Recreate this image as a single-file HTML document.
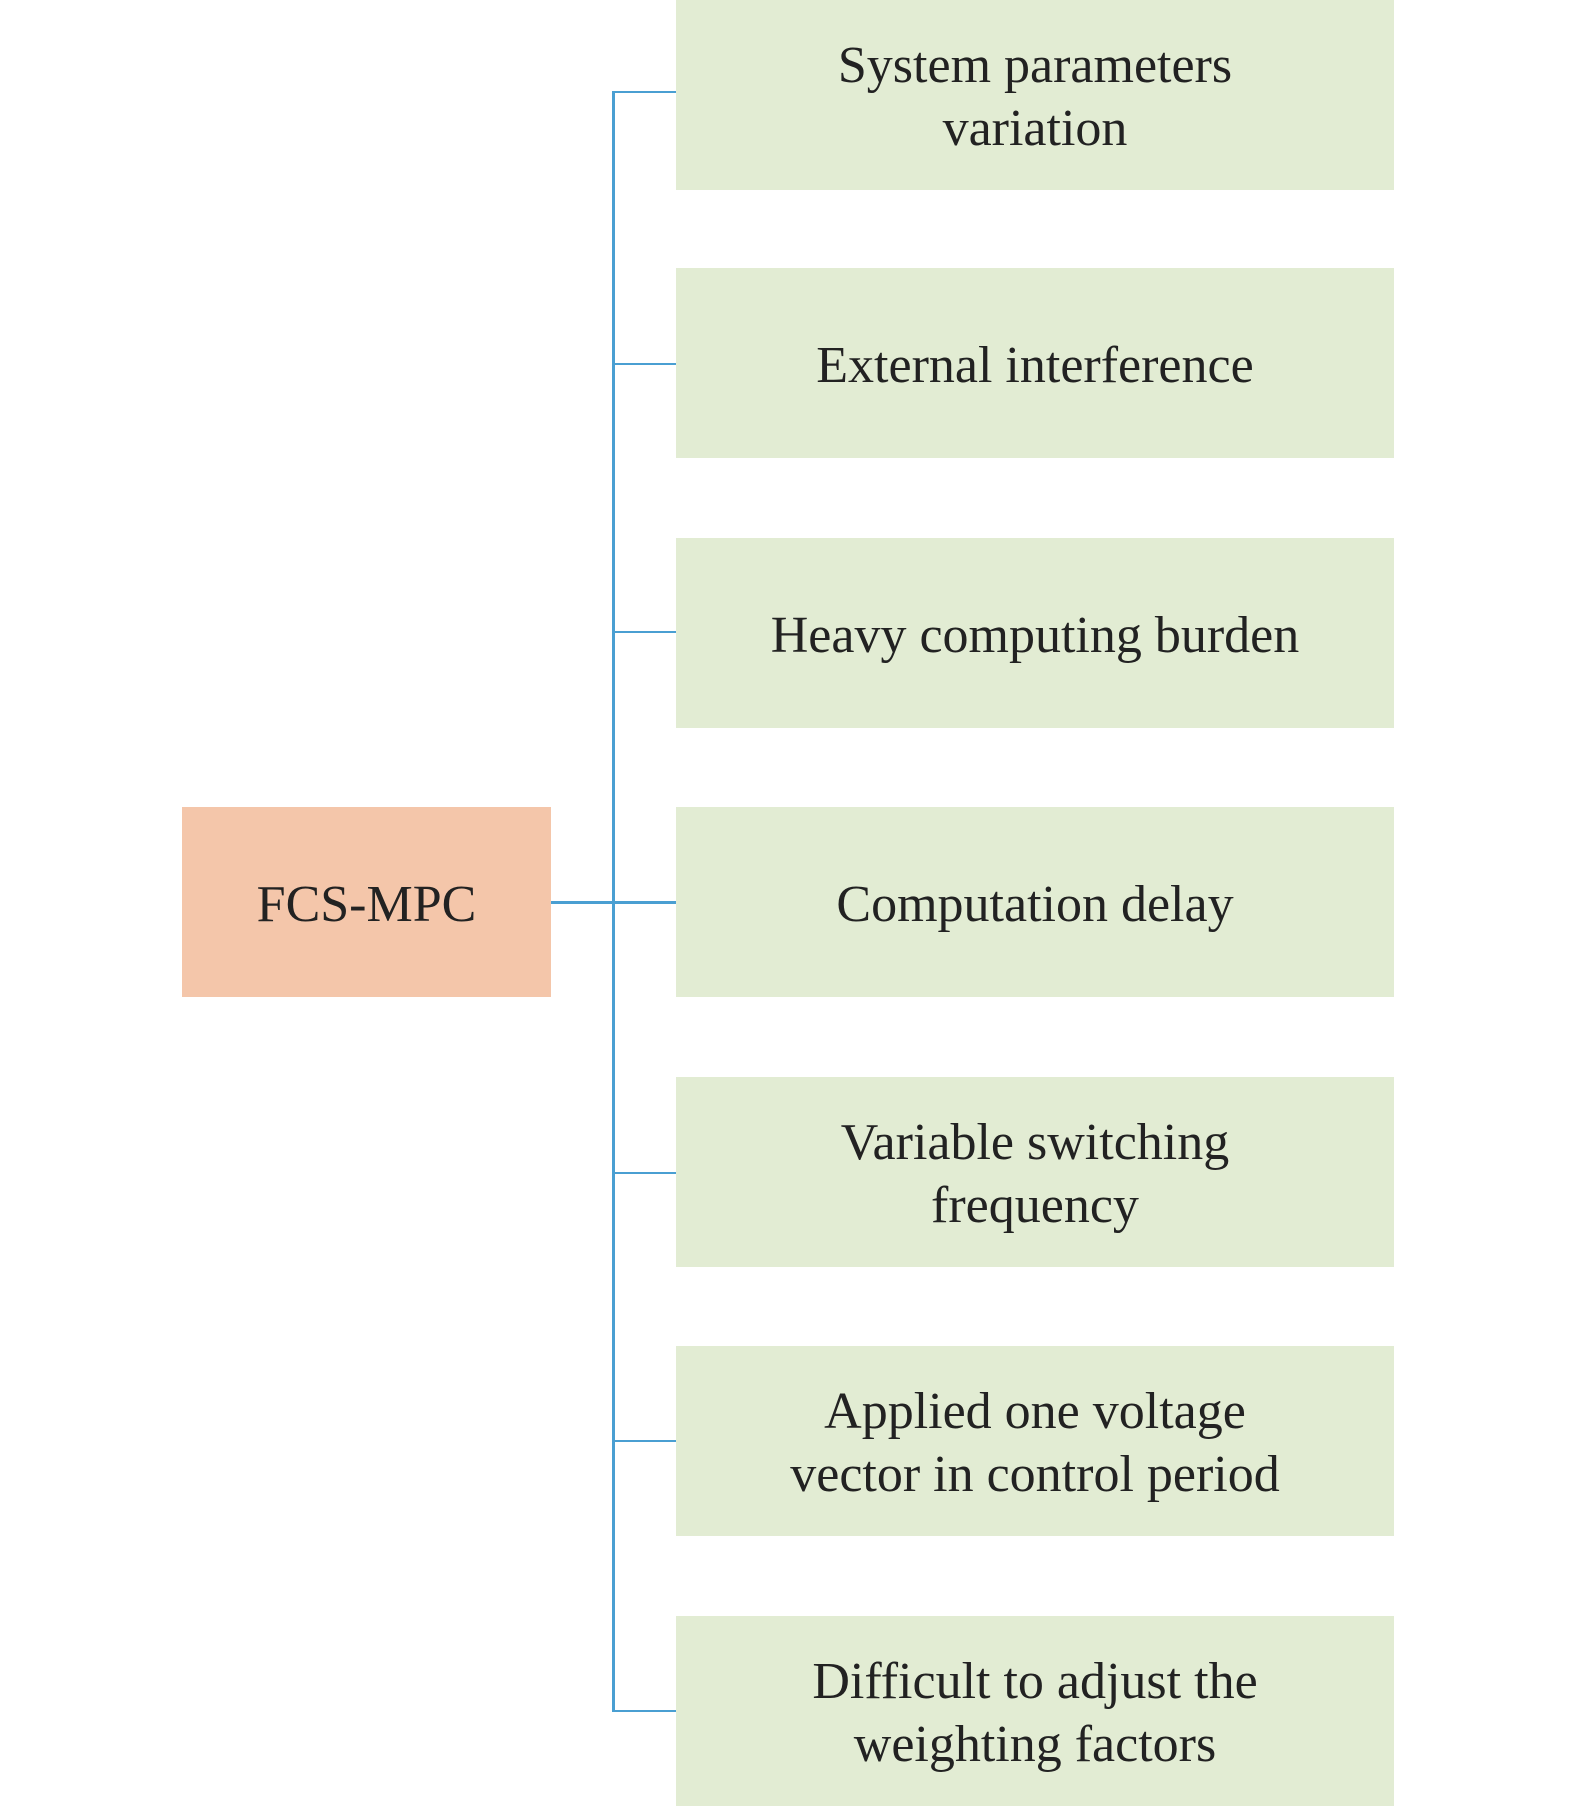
<!DOCTYPE html>
<html><head><style>
body{margin:0;width:1575px;height:1804px;background:#fff;position:relative;overflow:hidden;font-family:"Liberation Serif",serif;}
.b{position:absolute;left:676px;width:718px;height:190px;padding-top:4px;box-sizing:border-box;background:#e2ecd3;display:flex;align-items:center;justify-content:center;text-align:center;font-size:52px;line-height:63px;color:#222;}
.l{position:absolute;background:#4a9fd2;}
</style></head><body>
<div class="l" style="left:612px;top:91px;width:3px;height:1621px"></div>
<div class="l" style="left:551px;top:901px;width:126px;height:3px"></div>
<div class="l" style="left:612px;top:91px;width:65px;height:2px"></div>
<div class="l" style="left:612px;top:363px;width:65px;height:2px"></div>
<div class="l" style="left:612px;top:631px;width:65px;height:2px"></div>
<div class="l" style="left:612px;top:1172px;width:65px;height:2px"></div>
<div class="l" style="left:612px;top:1440px;width:65px;height:2px"></div>
<div class="l" style="left:612px;top:1710px;width:65px;height:2px"></div>
<div style="position:absolute;left:182px;top:807px;width:369px;height:190px;padding-top:4px;box-sizing:border-box;background:#f4c6aa;display:flex;align-items:center;justify-content:center;font-size:52px;color:#222">FCS-MPC</div>
<div class="b" style="top:0px">System parameters<br>variation</div>
<div class="b" style="top:268px">External interference</div>
<div class="b" style="top:538px">Heavy computing burden</div>
<div class="b" style="top:807px">Computation delay</div>
<div class="b" style="top:1077px">Variable switching<br>frequency</div>
<div class="b" style="top:1346px">Applied one voltage<br>vector in control period</div>
<div class="b" style="top:1616px">Difficult to adjust the<br>weighting factors</div>
</body></html>
